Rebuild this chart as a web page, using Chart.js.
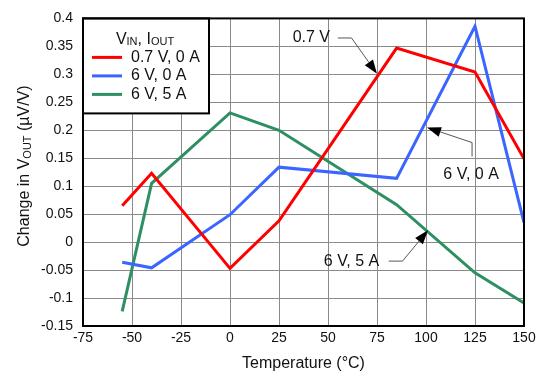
<!DOCTYPE html>
<html>
<head>
<meta charset="utf-8">
<script src="https://cdn.jsdelivr.net/npm/chart.js@4.4.0/dist/chart.umd.min.js"></script>
<style>
  html, body { margin: 0; padding: 0; background: #fff; }
  canvas { display: block; }
</style>
</head>
<body>
<canvas id="grafica" width="541" height="377"></canvas>
<script>
// Change in VOUT vs temperature, three VIN / IOUT conditions

const temperaturas = [-55, -40, 0, 25, 85, 125, 150];
const serie07V0A = [0.065, 0.123, -0.047, 0.038, 0.347, 0.304, 0.149];
const serie6V0A  = [-0.036, -0.046, 0.049, 0.134, 0.114, 0.386, 0.035];
const serie6V5A  = [-0.124, 0.105, 0.231, 0.200, 0.067, -0.055, -0.109];

const etiquetas = ['0.7 V, 0 A', '6 V, 0 A', '6 V, 5 A'];
const colores = ['#ff0000', '#3a66ff', '#2e9062'];

const ticksX = [-75, -50, -25, 0, 25, 50, 75, 100, 125, 150];
const ticksY = [-0.15, -0.1, -0.05, 0, 0.05, 0.1, 0.15, 0.2, 0.25, 0.3, 0.35, 0.4];

// Call-outs in data units: text centre, then leader path ending at the arrow tip
const anotaciones = [
    { texto: '0.7 V', x: 41.5, y: 0.365, camino: [[55, 0.365], [62, 0.365], [75, 0.301]] },
    { texto: '6 V, 0 A', x: 123, y: 0.120, camino: [[123.5, 0.153], [123.5, 0.178], [100.5, 0.205]] },
    { texto: '6 V, 5 A', x: 62, y: -0.034, camino: [[81, -0.034], [88, -0.034], [101, 0.021]] }
];

const FUENTE = '"Liberation Sans", Arial, sans-serif';

function puntos(valores) {
    return temperaturas.map((t, i) => ({ x: t, y: valores[i] }));
}

// Draws text with subscript parts; partes = [[texto, esSub], ...]
function textoConSub(ctx, partes, x, y) {
    const fNormal = '16px ' + FUENTE;
    const fSub = '11px ' + FUENTE;
    let total = 0;
    partes.forEach(p => {
        ctx.font = p[1] ? fSub : fNormal;
        total += ctx.measureText(p[0]).width;
    });
    let cx = x - total / 2;
    ctx.textAlign = 'left';
    ctx.textBaseline = 'middle';
    partes.forEach(p => {
        ctx.font = p[1] ? fSub : fNormal;
        ctx.fillText(p[0], cx, p[1] ? y + 3 : y);
        cx += ctx.measureText(p[0]).width;
    });
}

const pluginExtras = {
    id: 'extras',
    afterDatasetsDraw(chart) {
        const ctx = chart.ctx;
        const area = chart.chartArea;
        const xs = chart.scales.x, ys = chart.scales.y;
        ctx.save();
        ctx.fillStyle = '#000';

        // call-outs
        anotaciones.forEach(a => {
            ctx.font = '16px ' + FUENTE;
            ctx.textAlign = 'center';
            ctx.textBaseline = 'middle';
            ctx.fillStyle = '#111';
            ctx.fillText(a.texto, xs.getPixelForValue(a.x), ys.getPixelForValue(a.y));
            const pts = a.camino.map(p => [xs.getPixelForValue(p[0]), ys.getPixelForValue(p[1])]);
            const tip = pts[pts.length - 1];
            const prev = pts[pts.length - 2];
            const ang = Math.atan2(tip[1] - prev[1], tip[0] - prev[0]);
            const largo = 14, ancho = 5;
            const base = [tip[0] - largo * Math.cos(ang), tip[1] - largo * Math.sin(ang)];
            ctx.strokeStyle = '#555';
            ctx.lineWidth = 1;
            ctx.beginPath();
            ctx.moveTo(pts[0][0], pts[0][1]);
            for (let i = 1; i < pts.length - 1; i++) ctx.lineTo(pts[i][0], pts[i][1]);
            ctx.lineTo(base[0], base[1]);
            ctx.stroke();
            ctx.fillStyle = '#000';
            ctx.beginPath();
            ctx.moveTo(tip[0], tip[1]);
            ctx.lineTo(base[0] + ancho * Math.sin(ang), base[1] - ancho * Math.cos(ang));
            ctx.lineTo(base[0] - ancho * Math.sin(ang), base[1] + ancho * Math.cos(ang));
            ctx.closePath();
            ctx.fill();
        });

        // legend box
        const lx = area.left, ly = area.top, lw = 126, lh = 95;
        ctx.fillStyle = '#fff';
        ctx.fillRect(lx, ly, lw, lh);
        ctx.strokeStyle = '#000';
        ctx.lineWidth = 2;
        ctx.strokeRect(lx, ly, lw, lh);
        ctx.fillStyle = '#111';
        textoConSub(ctx, [['V', false], ['IN', true], [', I', false], ['OUT', true]], lx + 62, ly + 21);
        chart.data.datasets.forEach((ds, i) => {
            const yy = ly + 39 + i * 18.5;
            ctx.strokeStyle = ds.borderColor;
            ctx.lineWidth = 3;
            ctx.beginPath();
            ctx.moveTo(lx + 9, yy);
            ctx.lineTo(lx + 39, yy);
            ctx.stroke();
            ctx.fillStyle = '#111';
            ctx.font = '16px ' + FUENTE;
            ctx.textAlign = 'left';
            ctx.textBaseline = 'middle';
            ctx.fillText(ds.label, lx + 48, yy);
        });

        // plot frame
        ctx.strokeStyle = '#000';
        ctx.lineWidth = 2;
        ctx.strokeRect(area.left, area.top, area.right - area.left, area.bottom - area.top);

        // axis titles
        ctx.fillStyle = '#111';
        ctx.font = '16px ' + FUENTE;
        ctx.textAlign = 'center';
        ctx.textBaseline = 'middle';
        ctx.fillText('Temperature (°C)', (area.left + area.right) / 2, 364);
        ctx.translate(25, 166);
        ctx.rotate(-Math.PI / 2);
        textoConSub(ctx, [['Change in V', false], ['OUT', true], [' (µV/V)', false]], 0, 0);
        ctx.restore();
    }
};

new Chart(document.getElementById('grafica'), {
    type: 'line',
    data: {
        datasets: [serie07V0A, serie6V0A, serie6V5A].map((serie, i) => ({
            label: etiquetas[i],
            data: puntos(serie),
            borderColor: colores[i],
            backgroundColor: colores[i],
            borderWidth: 3,
            pointRadius: 0,
            tension: 0,
            fill: false
        }))
    },
    options: {
        responsive: false,
        animation: false,
        devicePixelRatio: 1,
        layout: { padding: { top: 12, right: 17, left: 0, bottom: 0 } },
        plugins: {
            legend: { display: false },
            tooltip: { enabled: false }
        },
        scales: {
            x: {
                type: 'linear',
                min: -75,
                max: 150,
                afterBuildTicks: s => { s.ticks = ticksX.map(v => ({ value: v })); },
                afterFit: s => { s.height = 51; },
                grid: { color: '#8a8a8a', lineWidth: 1, drawTicks: false },
                border: { display: false },
                ticks: {
                    color: '#111',
                    padding: 4,
                    maxRotation: 0,
                    font: { family: FUENTE, size: 14 }
                }
            },
            y: {
                type: 'linear',
                min: -0.15,
                max: 0.4,
                afterBuildTicks: s => { s.ticks = ticksY.map(v => ({ value: v })); },
                afterFit: s => { s.width = 83; },
                grid: { color: '#8a8a8a', lineWidth: 1, drawTicks: false },
                border: { display: false },
                ticks: {
                    color: '#111',
                    padding: 10,
                    font: { family: FUENTE, size: 14 },
                    callback: v => String(Math.round(v * 100) / 100)
                }
            }
        }
    },
    plugins: [pluginExtras]
});
</script>
</body>
</html>
